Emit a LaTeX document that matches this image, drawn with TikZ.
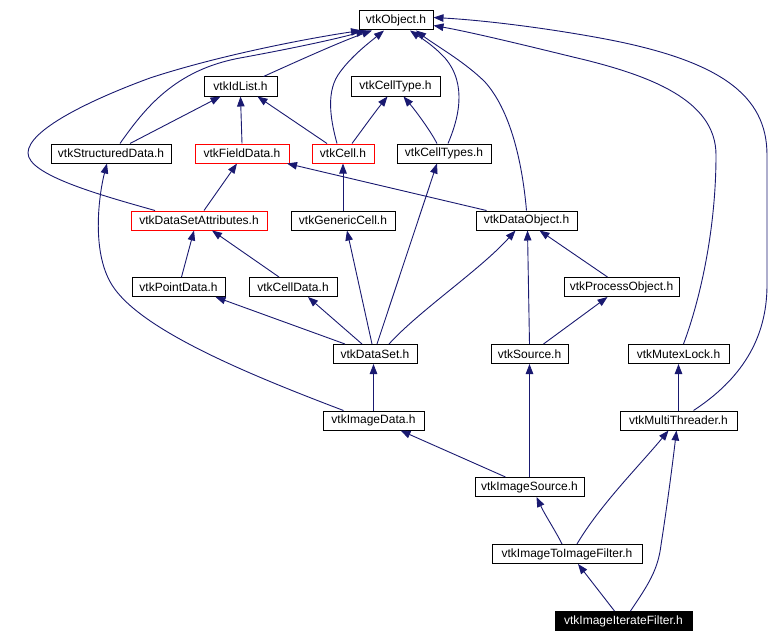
\documentclass[tikz,border=0pt]{standalone}
\usepackage{fontspec}
\setmainfont{Liberation Sans}
\usetikzlibrary{arrows.meta}
\definecolor{edgeblue}{HTML}{191970}
\tikzset{
  box/.style={draw=black, line width=1pt, fill=white, minimum height=19pt, inner sep=0pt, text=black, font=\fontsize{12}{14}\selectfont},
  redbox/.style={box, draw=red},
  blackbox/.style={box, fill=black, text=white},
  edge/.style={draw=edgeblue, line width=0.9pt, -{Triangle[length=10pt,width=7.5pt]}, fill=none},
}
\begin{document}
\begin{tikzpicture}[x=1pt,y=-1pt]
\useasboundingbox (0,0) rectangle (782,642);
% nodes
\node[box, minimum width=74pt] (obj) at (396,20.5) {vtkObject.h};
\node[box, minimum width=73pt] (idlist) at (240.5,86.5) {vtkIdList.h};
\node[box, minimum width=89pt] (celltype) at (395.5,86.5) {vtkCellType.h};
\node[box, minimum width=120pt] (structured) at (111,153.5) {vtkStructuredData.h};
\node[redbox, minimum width=94pt] (fielddata) at (242,153.5) {vtkFieldData.h};
\node[redbox, minimum width=62pt] (cell) at (343,153.5) {vtkCell.h};
\node[box, minimum width=94pt] (celltypes) at (444,153.5) {vtkCellTypes.h};
\node[redbox, minimum width=136pt] (dsa) at (199,220.5) {vtkDataSetAttributes.h};
\node[box, minimum width=104pt] (generic) at (343,220.5) {vtkGenericCell.h};
\node[box, minimum width=101pt] (dataobject) at (526.5,220.5) {vtkDataObject.h};
\node[box, minimum width=93pt] (pointdata) at (178.5,287) {vtkPointData.h};
\node[box, minimum width=88pt] (celldata) at (293,287) {vtkCellData.h};
\node[box, minimum width=115pt] (process) at (621.5,287) {vtkProcessObject.h};
\node[box, minimum width=84pt] (dataset) at (375,354) {vtkDataSet.h};
\node[box, minimum width=77pt] (source) at (529.5,354) {vtkSource.h};
\node[box, minimum width=101pt] (mutex) at (678.5,354) {vtkMutexLock.h};
\node[box, minimum width=101pt] (imagedata) at (373.5,420.5) {vtkImageData.h};
\node[box, minimum width=117pt] (multi) at (678.5,420.5) {vtkMultiThreader.h};
\node[box, minimum width=109pt] (imagesource) at (529.5,487) {vtkImageSource.h};
\node[box, minimum width=150pt] (imagetoimage) at (567,554) {vtkImageToImageFilter.h};
\node[blackbox, minimum width=137pt] (iterate) at (623.5,621) {vtkImageIterateFilter.h};
% edges to vtkObject
\draw[edge] ([xshift=-44pt]dsa.north) .. controls (100,195) and (28,175) .. (28,153) .. controls (28,130) and (90,100) .. (150,78) .. controls (220,55) and (310,38) .. ([xshift=-35pt]obj.south);
\draw[edge] ([xshift=9pt]structured.north) .. controls (145,108) and (175,70) .. (240,58) .. controls (300,47) and (340,38) .. ([xshift=-30pt]obj.south);
\draw[edge] ([xshift=23pt]idlist.north) .. controls (300,60) and (340,42) .. ([xshift=-24pt]obj.south);
\draw[edge] ([xshift=-6pt]cell.north) .. controls (332,125) and (325,95) .. (338,75) .. controls (350,57) and (370,42) .. ([xshift=-12pt]obj.south);
\draw[edge] ([xshift=4pt]celltypes.north) .. controls (458,120) and (468,85) .. (445,58) .. controls (432,44) and (418,36) .. ([xshift=14pt]obj.south);
\draw[edge] (dataobject.north) .. controls (522,160) and (510,110) .. (485,82) .. controls (465,62) and (435,45) .. ([xshift=20pt]obj.south);
\draw[edge] ([xshift=5pt]mutex.north) .. controls (700,300) and (716,230) .. (716,155) .. controls (716,100) and (650,75) .. (573,57) .. controls (520,44) and (470,32) .. ([yshift=-5pt]obj.east);
\draw[edge] ([xshift=15pt]multi.north) .. controls (740,380) and (767,340) .. (767,285) -- (767,155) .. controls (767,95) and (720,60) .. (600,38) .. controls (540,27) and (480,20) .. ([yshift=3pt]obj.east);
% other edges
\draw[edge] ([xshift=-30pt]imagedata.north) .. controls (250,375) and (140,330) .. (112,285) .. controls (90,250) and (100,190) .. ([xshift=-4pt]structured.south);
\draw[edge] ([xshift=19pt]structured.north) -- ([xshift=-20pt]idlist.south);
\draw[edge] (fielddata.north) -- (idlist.south);
\draw[edge] ([xshift=-16pt]cell.north) -- ([xshift=17pt]idlist.south);
\draw[edge] ([xshift=9pt]cell.north) .. controls (362,130) and (375,112) .. ([xshift=-8pt]celltype.south);
\draw[edge] ([xshift=-7pt]celltypes.north) .. controls (430,130) and (415,110) .. ([xshift=8pt]celltype.south);
\draw[edge] ([xshift=-40pt]dataobject.north) -- ([xshift=45pt]fielddata.south);
\draw[edge] (generic.north) -- (cell.south);
\draw[edge] ([xshift=5pt]dsa.north) -- ([xshift=-5pt]fielddata.south);
\draw[edge] ([xshift=3pt]pointdata.north) -- ([xshift=-5pt]dsa.south);
\draw[edge] ([xshift=-14pt]celldata.north) -- ([xshift=13pt]dsa.south);
\draw[edge] ([xshift=-14pt]process.north) -- ([xshift=13pt]dataobject.south);
\draw[edge] ([xshift=-30pt]dataset.north) -- ([xshift=37pt]pointdata.south);
\draw[edge] ([xshift=-13pt]dataset.north) -- ([xshift=15pt]celldata.south);
\draw[edge] ([xshift=-3pt]dataset.north) -- ([xshift=4pt]generic.south);
\draw[edge] ([xshift=2pt]dataset.north) -- ([xshift=-7pt]celltypes.south);
\draw[edge] ([xshift=14pt]dataset.north) .. controls (420,310) and (480,270) .. ([xshift=-11pt]dataobject.south);
\draw[edge] (source.north) -- ([xshift=1pt]dataobject.south);
\draw[edge] ([xshift=14pt]source.north) -- ([xshift=-14pt]process.south);
\draw[edge] (imagedata.north) -- ([xshift=-1.5pt]dataset.south);
\draw[edge] ([xshift=-24pt]imagesource.north) -- ([xshift=27pt]imagedata.south);
\draw[edge] (imagesource.north) -- (source.south);
\draw[edge] ([xshift=-5pt]imagetoimage.north) .. controls (555,530) and (545,515) .. ([xshift=7pt]imagesource.south);
\draw[edge] ([xshift=10pt]imagetoimage.north) .. controls (600,505) and (640,465) .. ([xshift=-10pt]multi.south);
\draw[edge] ([xshift=-9pt]iterate.north) -- ([xshift=11pt]imagetoimage.south);
\draw[edge] ([xshift=7pt]iterate.north) .. controls (648,585) and (658,570) .. (661,545) .. controls (668,500) and (673,460) .. ([xshift=-2pt]multi.south);
\draw[edge] (multi.north) -- (mutex.south);
\end{tikzpicture}
\end{document}
